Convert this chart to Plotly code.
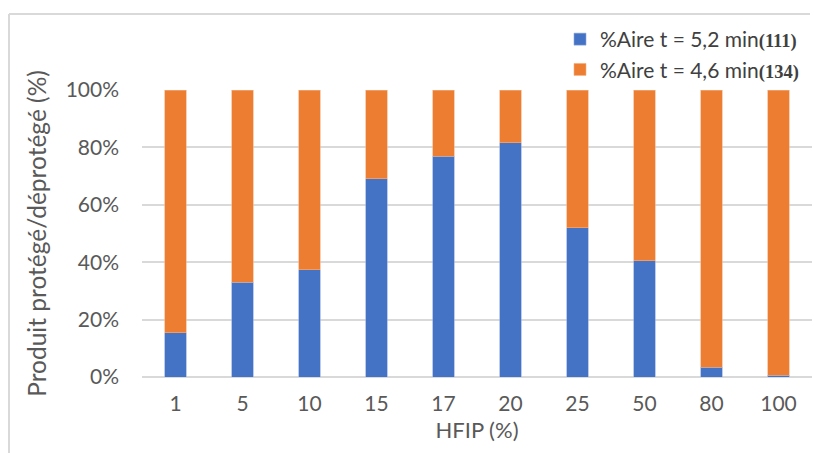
import plotly.graph_objects as go

categories = ["1", "5", "10", "15", "17", "20", "25", "50", "80", "100"]
aire_52 = [0.155, 0.33, 0.374, 0.691, 0.769, 0.817, 0.52, 0.405, 0.034, 0.006]
aire_46 = [round(1 - v, 3) for v in aire_52]

name_52 = "%Aire t = 5,2 min<span style='font-family:Liberation Serif;font-size:18.5px'><b>(111)</b></span>"
name_46 = "%Aire t = 4,6 min<span style='font-family:Liberation Serif;font-size:18.5px'><b>(134)</b></span>"

W, H = 814, 453
L, R, T, B = 142, 812, 90, 377

def px(x):
    return (x - L) / (R - L)

def py(y):
    return (B - y) / (B - T)

fig = go.Figure()
fig.add_trace(go.Bar(x=categories, y=aire_52, name=name_52, marker_color="#4472C4",
                     marker_line=dict(color="#8FAADC", width=0.6)))
fig.add_trace(go.Bar(x=categories, y=aire_46, name=name_46, marker_color="#ED7D31",
                     marker_line=dict(color="#F4B183", width=0.6)))

fig.update_layout(
    width=W, height=H,
    margin=dict(l=L, r=W - R, t=T, b=H - B, autoexpand=False),
    barmode="stack",
    bargap=0.685,
    plot_bgcolor="white",
    paper_bgcolor="white",
    font=dict(family="Lato, Open Sans, sans-serif", color="#595959", size=21),
    legend=dict(x=px(560), y=py(19), xanchor="left", yanchor="top",
                traceorder="normal", font=dict(size=21, color="#404040"),
                bgcolor="rgba(0,0,0,0)", itemwidth=30, tracegroupgap=0),
    xaxis=dict(title=dict(text="HFIP (%)", font=dict(size=22), standoff=8),
               showgrid=False, ticks="", showline=False, tickfont=dict(size=21),
               ticklabelstandoff=12),
    yaxis=dict(range=[0, 1], tickformat=".0%", dtick=0.2, gridcolor="#D9D9D9", gridwidth=1.5,
               zeroline=True, zerolinecolor="#D9D9D9", zerolinewidth=1.5,
               title=dict(text="Produit protégé/déprotégé (%)", font=dict(size=24.5), standoff=12),
               tickfont=dict(size=21), ticklabelstandoff=22),
    shapes=[
        dict(type="line", xref="paper", yref="paper", x0=px(9), x1=px(9), y0=py(14), y1=py(453),
             line=dict(color="#D9D9D9", width=2)),
        dict(type="line", xref="paper", yref="paper", x0=px(9), x1=px(810), y0=py(14), y1=py(14),
             line=dict(color="#D9D9D9", width=2)),
    ],
)

fig.write_html("out.html", config={"displayModeBar": False},
               post_script="document.body.style.margin='0';document.body.style.overflow='hidden';")
